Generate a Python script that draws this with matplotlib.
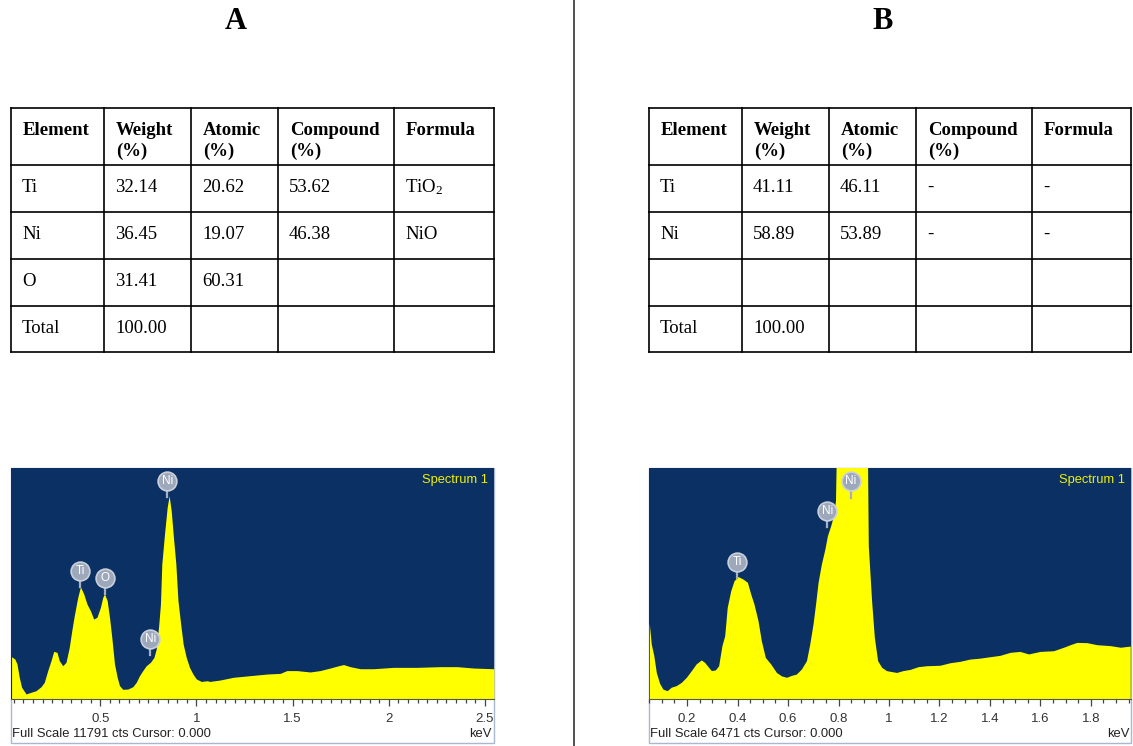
import matplotlib.pyplot as plt
from matplotlib.patches import Rectangle
from matplotlib.ticker import MultipleLocator, FuncFormatter

plt.rcParams['mathtext.fontset'] = 'stix'

W, H = 1133, 746

# --- composition tables -------------------------------------------------
header = [["Element"], ["Weight", "(%)"], ["Atomic", "(%)"],
          ["Compound", "(%)"], ["Formula"]]

rows_a = [["Ti", "32.14", "20.62", "53.62", r"$\mathregular{TiO_2}$"],
          ["Ni", "36.45", "19.07", "46.38", "NiO"],
          ["O", "31.41", "60.31", "", ""],
          ["Total", "100.00", "", "", ""]]

rows_b = [["Ti", "41.11", "46.11", "-", "-"],
          ["Ni", "58.89", "53.89", "-", "-"],
          ["", "", "", "", ""],
          ["Total", "100.00", "", "", ""]]

# --- EDS spectra (keV, counts) ------------------------------------------
full_scale_a = 11791
energy_a = [0.039, 0.056, 0.067, 0.079, 0.091, 0.114, 0.140, 0.166, 0.192, 0.209,
            0.227, 0.244, 0.258, 0.275, 0.287, 0.305, 0.322, 0.339, 0.352, 0.365,
            0.383, 0.397, 0.414, 0.431, 0.449, 0.466, 0.483, 0.501, 0.513, 0.522,
            0.536, 0.548, 0.560, 0.574, 0.588, 0.600, 0.617, 0.643, 0.669, 0.687,
            0.704, 0.721, 0.739, 0.761, 0.779, 0.791, 0.803, 0.813, 0.820, 0.834,
            0.848, 0.858, 0.869, 0.879, 0.893, 0.904, 0.918, 0.931, 0.947, 0.964,
            0.982, 0.999, 1.025, 1.056, 1.070, 1.122, 1.192, 1.279, 1.366, 1.436,
            1.470, 1.522, 1.591, 1.643, 1.695, 1.739, 1.765, 1.799, 1.852, 1.921,
            2.025, 2.147, 2.268, 2.355, 2.442, 2.546]
counts_a = [2158, 2040, 1792, 1108, 601, 259, 342, 424, 625, 849,
            1450, 1957, 2429, 2382, 1957, 1698, 1875, 2641, 3490, 4257,
            5188, 5730, 5365, 4846, 4504, 4080, 4174, 4681, 5188, 5365,
            5023, 4174, 3148, 1792, 1108, 684, 495, 507, 625, 849,
            1191, 1450, 1698, 1875, 2122, 2547, 3655, 4846, 6886, 8419,
            9787, 10376, 9610, 8419, 6886, 5023, 3832, 2806, 2122, 1615,
            1273, 1026, 896, 931, 896, 967, 1108, 1191, 1273, 1309,
            1450, 1450, 1380, 1450, 1580, 1698, 1757, 1651, 1545, 1545,
            1615, 1615, 1651, 1651, 1580, 1545]
peaks_a = [("Ti", 0.395, 6520), ("O", 0.524, 6178),
           ("Ni", 0.760, 3066), ("Ni", 0.848, 11142)]

full_scale_b = 6471
energy_b = [0.050, 0.058, 0.068, 0.078, 0.091, 0.104, 0.121, 0.137, 0.157, 0.177,
            0.197, 0.217, 0.236, 0.256, 0.269, 0.283, 0.296, 0.312, 0.325, 0.338,
            0.349, 0.359, 0.373, 0.386, 0.402, 0.422, 0.439, 0.452, 0.465, 0.481,
            0.494, 0.510, 0.531, 0.554, 0.574, 0.594, 0.613, 0.633, 0.653, 0.673,
            0.686, 0.699, 0.709, 0.719, 0.732, 0.746, 0.756, 0.769, 0.780, 0.788,
            0.792, 0.820, 0.850, 0.880, 0.905, 0.915, 0.918, 0.931, 0.942, 0.955,
            0.971, 0.990, 1.003, 1.030, 1.056, 1.083, 1.116, 1.149, 1.202, 1.242,
            1.281, 1.321, 1.361, 1.400, 1.440, 1.480, 1.519, 1.553, 1.599, 1.652,
            1.692, 1.718, 1.744, 1.784, 1.824, 1.877, 1.917, 1.956]
counts_b = [2122, 1540, 1217, 744, 440, 278, 233, 330, 375, 466,
            608, 796, 984, 1094, 1029, 906, 796, 815, 932, 1495,
            1773, 2569, 3035, 3313, 3430, 3358, 3268, 2944, 2660, 2194,
            1637, 1165, 984, 744, 647, 608, 660, 699, 841, 1074,
            1540, 2103, 2660, 3268, 3779, 4200, 4575, 4853, 5138, 5559,
            7118, 8736, 9383, 8736, 7442, 6600, 4297, 2757, 1728, 1074,
            887, 796, 777, 744, 796, 828, 906, 932, 945, 1016,
            1055, 1119, 1145, 1184, 1223, 1307, 1333, 1262, 1333, 1352,
            1450, 1521, 1585, 1579, 1521, 1495, 1450, 1482]
peaks_b = [("Ti", 0.399, 3831), ("Ni", 0.756, 5261), ("Ni", 0.849, 6096)]

NAVY = "#0b3063"
YELLOW = "#ffff00"
FRAME = "#a9b7cf"
SERIF = "Liberation Serif"
SANS = "Liberation Sans"

fig = plt.figure(figsize=(W / 100, H / 100), dpi=100)
bg = fig.add_axes([0, 0, 1, 1])
bg.set_xlim(0, W)
bg.set_ylim(H, 0)
bg.axis("off")

# panel titles and divider
bg.text(236, 29, "A", ha="center", va="baseline", fontsize=22,
        fontweight="bold", family=SERIF)
bg.text(883, 29, "B", ha="center", va="baseline", fontsize=22,
        fontweight="bold", family=SERIF)
bg.plot([574, 574], [0, H], color="#222222", lw=1.1)


def draw_table(cols, rows, top=108, heights=(57, 47, 47, 47, 46)):
    edges = [top]
    for h in heights:
        edges.append(edges[-1] + h)
    for x in cols:
        bg.plot([x, x], [edges[0], edges[-1]], color="black", lw=1.2)
    for y in edges:
        bg.plot([cols[0], cols[-1]], [y, y], color="black", lw=1.2)
    for j, lines in enumerate(header):
        for k, line in enumerate(lines):
            bg.text(cols[j] + 12, edges[0] + 27 + 21 * k, line, ha="left",
                    va="baseline", fontsize=13.5, fontweight="bold",
                    family=SERIF)
    for i, row in enumerate(rows):
        for j, cell in enumerate(row):
            bg.text(cols[j] + 11, edges[i + 1] + 27, cell, ha="left",
                    va="baseline", fontsize=13.5, family=SERIF)


draw_table([11, 104, 191, 278, 394, 494], rows_a)
draw_table([649, 742, 829, 916, 1032, 1131], rows_b)


def draw_spectrum(left, right, energy, counts, peaks, full_scale,
                  xlim, major, minor):
    bg.add_patch(Rectangle((left, 468), right - left, 275, fill=False,
                           edgecolor=FRAME, lw=1.0))
    ax = fig.add_axes([left / W, (H - 699) / H, (right - left) / W, 231 / H])
    ax.set_facecolor(NAVY)
    ax.fill_between(energy, counts, 0, color=YELLOW, lw=0)
    ax.set_xlim(*xlim)
    ax.set_ylim(0, full_scale)
    for s in ("top", "left", "right"):
        ax.spines[s].set_visible(False)
    ax.spines["bottom"].set_color("#555555")
    ax.spines["bottom"].set_linewidth(0.8)
    ax.set_yticks([])
    ax.xaxis.set_major_locator(MultipleLocator(major))
    ax.xaxis.set_minor_locator(MultipleLocator(minor))
    ax.xaxis.set_major_formatter(FuncFormatter(lambda v, p: "%g" % round(v, 2)))
    ax.tick_params(axis="x", which="major", direction="out", length=5,
                   width=0.9, color="#444444", pad=5, labelsize=9.5,
                   labelcolor="#333333")
    ax.tick_params(axis="x", which="minor", direction="out", length=3,
                   width=0.9, color="#444444")
    for lab in ax.get_xticklabels():
        lab.set_family(SANS)

    ax.text(0.988, 0.975, "Spectrum 1", transform=ax.transAxes, ha="right",
            va="top", color="#f0f000", fontsize=9.3, family=SANS)

    stem = 0.07 * full_scale
    for name, e, y in peaks:
        ax.plot([e, e], [y, y - stem], color="#a7b0c2", lw=1.6, zorder=4)
        ax.plot(e, y, "o", ms=13.5, mfc="#9ea8bb", mec="#c9d0dc", mew=1.2,
                zorder=5)
        ax.text(e, y, name, ha="center", va="center", color="white",
                fontsize=8.5, family=SANS, zorder=6)

    bg.text(left + 1, 734, "Full Scale %d cts Cursor: 0.000" % full_scale,
            ha="left", va="center", fontsize=9.4, family=SANS, color="#222222")
    bg.text(right - 2, 734, "keV", ha="right", va="center", fontsize=9.4,
            family=SANS, color="#222222")


draw_spectrum(11, 494, energy_a, counts_a, peaks_a, full_scale_a,
              (0.036, 2.547), 0.5, 0.05)
draw_spectrum(649, 1131, energy_b, counts_b, peaks_b, full_scale_b,
              (0.049, 1.959), 0.2, 0.05)

fig.savefig("out.png", dpi=100)
